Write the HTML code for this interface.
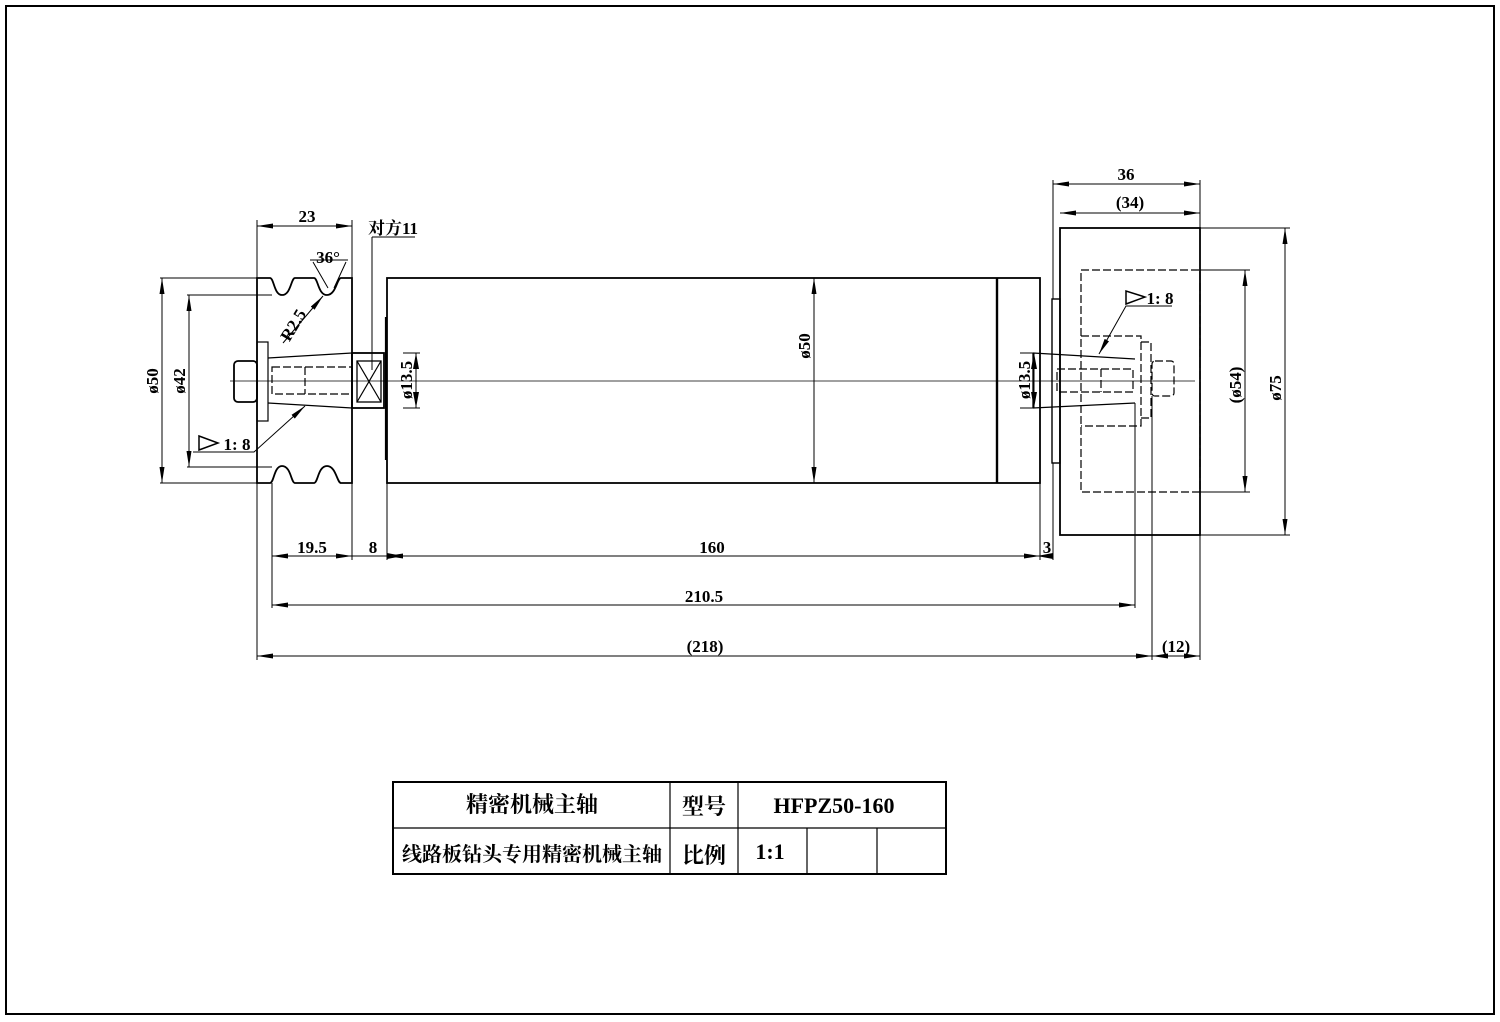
<!DOCTYPE html>
<html><head><meta charset="utf-8"><style>
html,body{margin:0;padding:0;background:#fff;}
svg{display:block;}
text{font-family:"Liberation Serif","Noto Serif CJK SC",serif;fill:#000;}
</style></head><body>
<svg width="1500" height="1022" viewBox="0 0 1500 1022" xmlns="http://www.w3.org/2000/svg">
<defs>
<marker id="a" viewBox="0 0 16 6" refX="16" refY="3" markerWidth="16" markerHeight="6" markerUnits="userSpaceOnUse" orient="auto-start-reverse"><path d="M0,0.5 L16,3 L0,5.5 Z" fill="#000"/></marker>
</defs>
<rect x="6" y="6" width="1488" height="1008" fill="none" stroke="#000" stroke-width="2"/>

<g fill="none" stroke="#000" stroke-width="1.8">
<path d="M257,278 L270,278 C274,278 274,295 282,295 C291,295 291,278 295,278 L314,278 C318,278 318,295 327,295 C336,295 337,278 341,278 L352,278 L352,483 L341,483 C337,483 336,466 327,466 C318,466 318,483 314,483 L295,483 C291,483 291,466 282,466 C274,466 274,483 270,483 L257,483 Z"/>
<rect x="234" y="361" width="23" height="41" rx="4"/>
<rect x="257" y="342" width="11" height="79" stroke-width="1.2"/>
<path d="M268,358 L352,353 M268,403 L352,408" stroke-width="1.3"/>
<rect x="352" y="353" width="32" height="55"/>
<rect x="357" y="361" width="24" height="41" stroke-width="1.3"/>
<path d="M357,361 L381,402 M381,361 L357,402" stroke-width="1.2"/>
<path d="M386,317 L386,460" stroke-width="2.2"/>
<rect x="387" y="278" width="653" height="205"/>
<path d="M997,278 L997,483" stroke-width="2.4"/>
<rect x="1052" y="299" width="8" height="164" stroke-width="1.4"/>
<rect x="1060" y="228" width="140" height="307"/>
<path d="M1033,353 L1135,359 M1033,408 L1135,403 M1033,353 L1033,408" stroke-width="1.3"/>
</g>

<g fill="none" stroke="#000" stroke-width="1.2" stroke-dasharray="8,3">
<rect x="1081" y="270" width="119" height="222"/>
<path d="M1081,336 L1141,336 L1141,426 L1081,426 M1141,342 L1151,342 L1151,418 L1141,418"/>
<rect x="1152" y="361" width="22" height="35" rx="3"/>
<rect x="1057" y="369" width="76" height="23"/>
<path d="M1101,369 L1101,392"/>
<rect x="272" y="367" width="80" height="27"/>
<path d="M305,367 L305,394"/>
</g>

<path d="M230,381 L1195,381" stroke="#000" stroke-width="0.8"/>

<g stroke="#000" stroke-width="1" fill="none">
<path d="M257,220 L257,660 M352,220 L352,278 M352,483 L352,560 M272,483 L272,608 M387,483 L387,560 M1040,483 L1040,560 M1053,180 L1053,299 M1053,463 L1053,560 M1200,180 L1200,228 M1200,535 L1200,660 M1135,403 L1135,608 M1152,396 L1152,660"/>
<path d="M1200,228 L1290,228 M1200,535 L1290,535 M1200,270 L1250,270 M1200,492 L1250,492"/>
<path d="M160,278 L257,278 M160,483 L257,483 M187,295 L272,295 M187,467 L272,467"/>
<path d="M403,353 L420,353 M403,408 L420,408 M1020,353 L1033,353 M1020,408 L1033,408"/>
<path d="M372,237 L415,237 M372,237 L372,370"/>
<path d="M313,262 L328,288 M346,262 L334,288 M310,260 L348,260"/>
<path d="M283,343 L323,296" marker-end="url(#a)"/>
<path d="M193,452 L254,452 L305,406" marker-end="url(#a)"/>
<path d="M1172,306 L1126,306 L1099,354" marker-end="url(#a)"/>
</g>

<g stroke="#000" stroke-width="1" fill="none" marker-start="url(#a)" marker-end="url(#a)">
<path d="M257,226 L352,226"/>
<path d="M1053,184 L1200,184"/>
<path d="M1060,213 L1200,213"/>
<path d="M162,278 L162,483"/>
<path d="M189,295 L189,467"/>
<path d="M814,278 L814,483"/>
<path d="M1285,228 L1285,535"/>
<path d="M1245,270 L1245,492"/>
<path d="M272,556 L352,556"/>
<path d="M387,556 L1040,556"/>
<path d="M272,605 L1135,605"/>
<path d="M257,656 L1152,656"/>
<path d="M1152,656 L1200,656"/>
</g>
<g stroke="#000" stroke-width="1" fill="none">
<path d="M352,556 L387,556"/><path d="M1040,556 L1053,556"/>
<path d="M416,353 L416,408"/><path d="M1034,353 L1034,408"/>
</g>
<g fill="#000">
<path d="M403,556 L387,553 L387,559 Z"/>
<path d="M1037,556 L1053,553 L1053,559 Z"/>
<path d="M416,353 L413,369 L419,369 Z"/><path d="M416,408 L413,392 L419,392 Z"/>
<path d="M1034,353 L1031,369 L1037,369 Z"/><path d="M1034,408 L1031,392 L1037,392 Z"/>
</g>

<path d="M199,436 L199,450 L218,443 Z" fill="none" stroke="#000" stroke-width="1.5"/>
<path d="M1126,291 L1126,304 L1145,297 Z" fill="none" stroke="#000" stroke-width="1.5"/>

<g font-size="17" font-weight="bold">
<text x="307" y="222" text-anchor="middle">23</text>
<text x="393" y="234" text-anchor="middle">对方11</text>
<text x="328" y="263" text-anchor="middle">36°</text>
<text transform="translate(298 328) rotate(-59)" text-anchor="middle">R2.5</text>
<text x="237" y="450" text-anchor="middle">1: 8</text>
<text x="1160" y="304" text-anchor="middle">1: 8</text>
<text x="1126" y="180" text-anchor="middle">36</text>
<text x="1130" y="208" text-anchor="middle">(34)</text>
<text x="312" y="553" text-anchor="middle">19.5</text>
<text x="373" y="553" text-anchor="middle">8</text>
<text x="712" y="553" text-anchor="middle">160</text>
<text x="1047" y="553" text-anchor="middle">3</text>
<text x="704" y="602" text-anchor="middle">210.5</text>
<text x="705" y="652" text-anchor="middle">(218)</text>
<text x="1176" y="652" text-anchor="middle">(12)</text>
<text transform="translate(158 381) rotate(-90)" text-anchor="middle">ø50</text>
<text transform="translate(185 381) rotate(-90)" text-anchor="middle">ø42</text>
<text transform="translate(810 346) rotate(-90)" text-anchor="middle">ø50</text>
<text transform="translate(412 380) rotate(-90)" text-anchor="middle">ø13.5</text>
<text transform="translate(1030 380) rotate(-90)" text-anchor="middle">ø13.5</text>
<text transform="translate(1241 385) rotate(-90)" text-anchor="middle">(ø54)</text>
<text transform="translate(1281 388) rotate(-90)" text-anchor="middle">ø75</text>
</g>

<g fill="none" stroke="#000">
<rect x="393" y="782" width="553" height="92" stroke-width="2"/>
<path d="M393,828 L946,828 M670,782 L670,874 M738,782 L738,874 M807,828 L807,874 M877,828 L877,874" stroke-width="1.2"/>
</g>
<g font-size="22" font-weight="bold" text-anchor="middle">
<text x="532" y="812">精密机械主轴</text>
<text x="704" y="814">型号</text>
<text x="834" y="813">HFPZ50-160</text>
<text x="532" y="861" font-size="20">线路板钻头专用精密机械主轴</text>
<text x="704" y="863">比例</text>
<text x="770" y="859">1:1</text>
</g>
</svg>
</body></html>
